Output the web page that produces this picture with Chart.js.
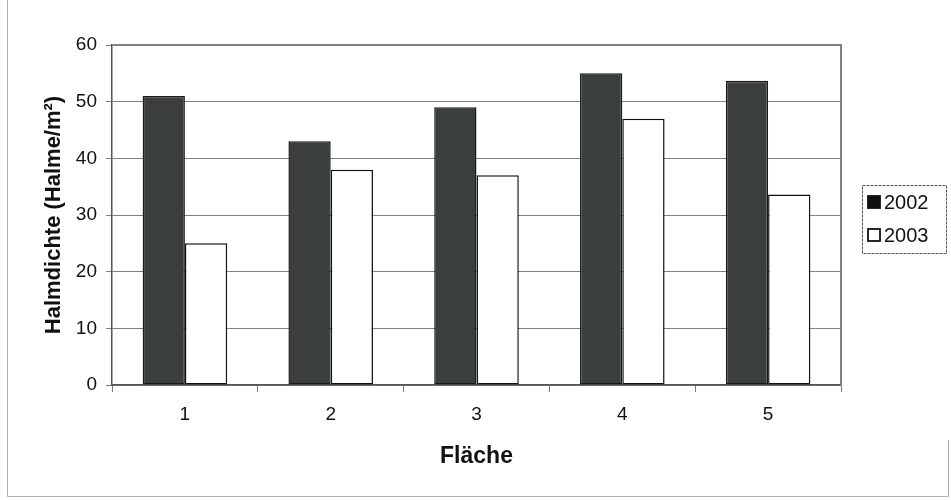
<!DOCTYPE html>
<html>
<head>
<meta charset="utf-8">
<script src="https://cdn.jsdelivr.net/npm/chart.js@4/dist/chart.umd.min.js"></script>
<style>
  html, body { margin: 0; padding: 0; background: #fff; }
  #wrap { width: 951px; height: 500px; position: relative; }
</style>
</head>
<body>
<div id="wrap"><canvas id="c" width="951" height="500"></canvas></div>
<script>
// Halmdichte je Fläche, 2002 und 2003
const categories = ['1', '2', '3', '4', '5'];
const seriesNames = ['2002', '2003'];
const values2002 = [51, 43, 49, 55, 53.7];
const values2003 = [25, 38, 37, 47, 33.6];
const yTicks = [0, 10, 20, 30, 40, 50, 60];

const FONT = "'Liberation Sans', Arial, sans-serif";

// Frame around the plot area (top and right edges in grey)
const plotFrame = {
  id: 'plotFrame',
  beforeDatasetsDraw(chart) {
    const { ctx, chartArea: a } = chart;
    ctx.save();
    ctx.strokeStyle = '#808080';
    ctx.lineWidth = 2;
    ctx.beginPath();
    ctx.moveTo(a.left, a.top);
    ctx.lineTo(a.right, a.top);
    ctx.lineTo(a.right, a.bottom);
    ctx.stroke();
    ctx.restore();
  }
};

// Legend box on the right, plus thin outer border of the figure
const sideLegend = {
  id: 'sideLegend',
  afterDraw(chart) {
    const { ctx } = chart;
    ctx.save();
    // outer border
    ctx.strokeStyle = '#b0b0b0';
    ctx.lineWidth = 1;
    ctx.beginPath();
    ctx.moveTo(7.5, 0);
    ctx.lineTo(7.5, 496.5);
    ctx.lineTo(948.5, 496.5);
    ctx.lineTo(948.5, 440);
    ctx.stroke();

    // legend box
    const bx = 862.5, by = 185.5, bw = 84, bh = 68;
    ctx.strokeStyle = '#555';
    ctx.lineWidth = 1;
    ctx.setLineDash([3, 1]);
    ctx.strokeRect(bx, by, bw, bh);
    ctx.setLineDash([]);

    ctx.font = '20px ' + FONT;
    ctx.textBaseline = 'middle';
    ctx.textAlign = 'left';
    chart.data.datasets.forEach((ds, i) => {
      const cy = 202 + i * 33;
      ctx.fillStyle = ds.legendFill;
      ctx.fillRect(868, cy - 6, 12, 12);
      ctx.strokeStyle = '#111';
      ctx.lineWidth = 1.8;
      ctx.strokeRect(868, cy - 6, 12, 12);
      ctx.fillStyle = '#111';
      ctx.fillText(ds.label, 884, cy + 1);
    });
    ctx.restore();
  }
};

new Chart(document.getElementById('c'), {
  type: 'bar',
  data: {
    labels: categories,
    datasets: [
      {
        label: seriesNames[0],
        data: values2002,
        backgroundColor: '#3b3f3c',
        borderColor: '#1a1a1a',
        borderWidth: 1.5,
        borderSkipped: false,
        legendFill: '#111'
      },
      {
        label: seriesNames[1],
        data: values2003,
        backgroundColor: '#ffffff',
        borderColor: '#111111',
        borderWidth: 1.5,
        borderSkipped: false,
        legendFill: '#ffffff'
      }
    ]
  },
  options: {
    responsive: false,
    animation: false,
    layout: { padding: { top: 45, right: 110, left: 0, bottom: 0 } },
    datasets: {
      bar: { categoryPercentage: 0.58, barPercentage: 1.0 }
    },
    plugins: {
      legend: { display: false },
      tooltip: { enabled: false }
    },
    scales: {
      x: {
        offset: true,
        grid: {
          offset: true,
          drawOnChartArea: false,
          drawTicks: true,
          tickLength: 7,
          color: '#777',
          lineWidth: 1
        },
        border: { display: true, color: '#555', width: 1.5 },
        ticks: {
          color: '#111',
          font: { family: FONT, size: 19 },
          padding: 11
        },
        title: {
          display: true,
          text: 'Fläche',
          color: '#111',
          font: { family: FONT, size: 23, weight: 'bold' },
          padding: { top: 0, bottom: 30 }
        },
        afterFit(scale) { scale.height = 115; }
      },
      y: {
        min: 0,
        max: 60,
        afterBuildTicks(scale) { scale.ticks = yTicks.map(v => ({ value: v })); },
        grid: {
          color: '#808080',
          lineWidth: 1,
          drawTicks: true,
          tickLength: 6
        },
        border: { display: true, color: '#555', width: 1.5 },
        ticks: {
          color: '#111',
          font: { family: FONT, size: 19 },
          padding: 9
        },
        title: {
          display: true,
          text: 'Halmdichte (Halme/m²)',
          color: '#111',
          font: { family: FONT, size: 22, weight: 'bold' },
          padding: { top: 41, bottom: 0 }
        },
        afterFit(scale) { scale.width = 112; }
      }
    }
  },
  plugins: [plotFrame, sideLegend]
});
</script>
</body>
</html>
